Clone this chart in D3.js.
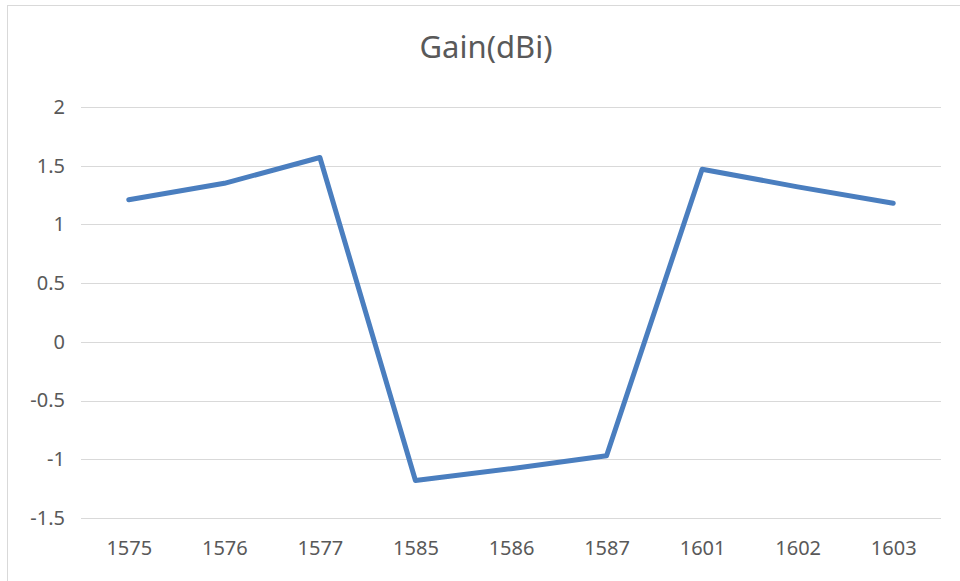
<!DOCTYPE html>
<html lang="en">
<head>
  <meta charset="utf-8">
  <title>Gain(dBi)</title>
  <script src="https://d3js.org/d3.v7.min.js"></script>
  <style>
    html, body { margin:0; padding:0; background:#fff; }
    svg { display:block; }
    text { font-family:"Noto Sans", "Open Sans", sans-serif; fill:#595959; }
  </style>
</head>
<body>
  <div id="chart"></div>
  <script>
    // ─── Data ───────────────────────────────────────────────────────────────
    const categories = ["1575", "1576", "1577", "1585", "1586", "1587", "1601", "1602", "1603"];
    const gainValues = [1.21, 1.35, 1.57, -1.18, -1.08, -0.97, 1.47, 1.32, 1.18];
    const yTicks     = [2, 1.5, 1, 0.5, 0, -0.5, -1, -1.5];
    const chartTitle = "Gain(dBi)";
    // ─────────────────────────────────────────────────────────────────────────

    const width = 960, height = 581;
    const plot = { left: 81, right: 941, top: 107, bottom: 518 };

    const svg = d3.select("#chart").append("svg")
      .attr("width", width)
      .attr("height", height);

    // chart frame (runs past the right / bottom edge in the reference)
    svg.append("rect")
      .attr("x", 7.5).attr("y", 5.5)
      .attr("width", 980).attr("height", 600)
      .attr("fill", "#fff")
      .attr("stroke", "#d9d9d9").attr("stroke-width", 1);

    const x = d3.scalePoint()
      .domain(categories)
      .range([plot.left, plot.right])
      .padding(0.5);

    const y = d3.scaleLinear()
      .domain([-1.5, 2])
      .range([plot.bottom, plot.top]);

    // gridlines
    svg.append("g")
      .selectAll("line")
      .data(yTicks)
      .join("line")
        .attr("x1", plot.left).attr("x2", plot.right)
        .attr("y1", d => Math.round(y(d)) + 0.5)
        .attr("y2", d => Math.round(y(d)) + 0.5)
        .attr("stroke", "#d9d9d9").attr("stroke-width", 1);

    // y axis labels
    const yAxis = svg.append("g")
      .attr("transform", `translate(${plot.left},0)`)
      .call(d3.axisLeft(y).tickValues(yTicks).tickSize(0).tickPadding(16).tickFormat(d => String(d)));
    yAxis.select(".domain").remove();
    yAxis.selectAll("text")
      .style("font-size", "20px")
      .style("font-family", "\"Noto Sans\", sans-serif")
      .attr("fill", "#595959");

    // x axis labels
    const xAxis = svg.append("g")
      .attr("transform", `translate(0,${plot.bottom})`)
      .call(d3.axisBottom(x).tickSize(0).tickPadding(23));
    xAxis.select(".domain").remove();
    xAxis.selectAll("text")
      .style("font-size", "20px")
      .style("font-family", "\"Noto Sans\", sans-serif")
      .attr("fill", "#595959");

    // series line
    const line = d3.line()
      .x((d, i) => x(categories[i]))
      .y(d => y(d));

    svg.append("path")
      .datum(gainValues)
      .attr("d", line)
      .attr("fill", "none")
      .attr("stroke", "#4a7ebf")
      .attr("stroke-width", 5)
      .attr("stroke-linejoin", "round")
      .attr("stroke-linecap", "round");

    // title
    svg.append("text")
      .attr("x", 486).attr("y", 58)
      .attr("text-anchor", "middle")
      .style("font-size", "31px")
      .text(chartTitle);
  </script>
</body>
</html>
